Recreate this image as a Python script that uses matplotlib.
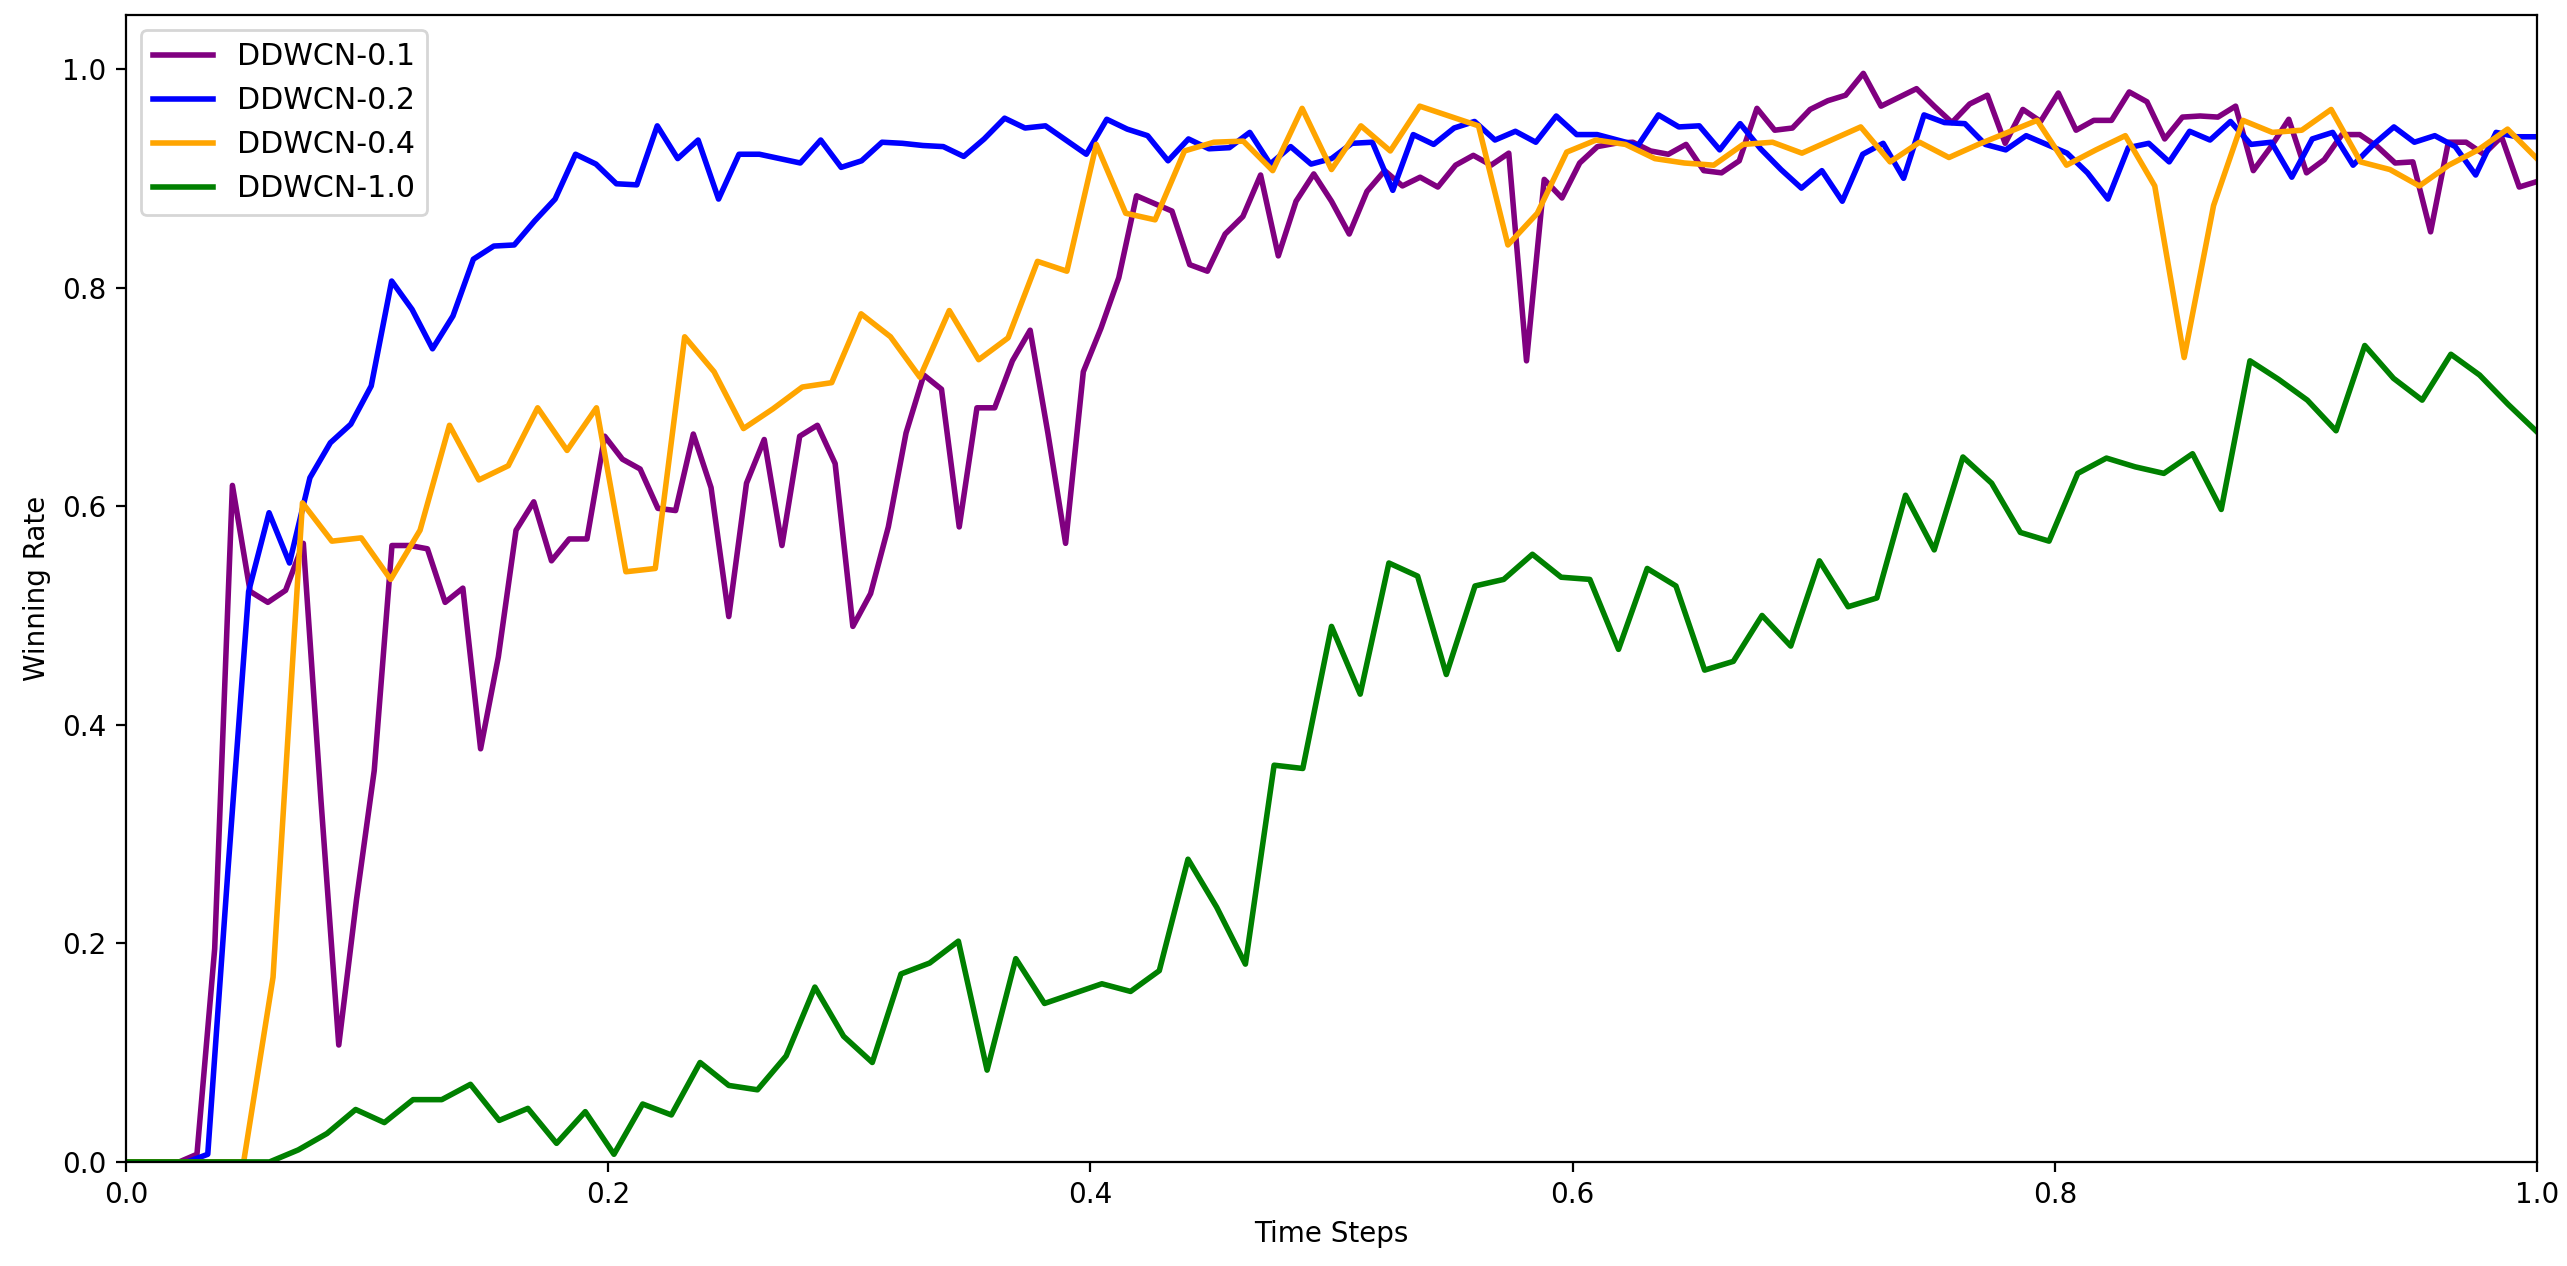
import numpy as np
import matplotlib
matplotlib.use("Agg")
import matplotlib.pyplot as plt

labels = ["DDWCN-0.1", "DDWCN-0.2", "DDWCN-0.4", "DDWCN-1.0"]
colors = ["purple", "blue", "orange", "green"]

ddwcn_01 = [0, 0, 0, 0.0, 0.007, 0.195, 0.619, 0.522, 0.512, 0.523, 0.566, 0.33, 0.107, 0.24, 0.358,
            0.564, 0.564, 0.561, 0.512, 0.525, 0.378, 0.462, 0.578, 0.604, 0.550, 0.570, 0.570, 0.664,
            0.643, 0.634, 0.598, 0.596, 0.666, 0.617, 0.499, 0.621, 0.661, 0.564, 0.664, 0.674, 0.639,
            0.490, 0.520, 0.581, 0.667, 0.720, 0.707, 0.581, 0.690, 0.690, 0.733, 0.761, 0.667, 0.566,
            0.723, 0.763, 0.809, 0.884, 0.877, 0.870, 0.821, 0.815, 0.849, 0.865, 0.903, 0.829, 0.879,
            0.904, 0.879, 0.849, 0.888, 0.907, 0.893, 0.901, 0.892, 0.912, 0.921, 0.912, 0.923, 0.733,
            0.899, 0.882, 0.914, 0.929, 0.932, 0.933, 0.925, 0.922, 0.931, 0.907, 0.905, 0.916, 0.964,
            0.944, 0.946, 0.963, 0.971, 0.976, 0.996, 0.966, 0.974, 0.982, 0.966, 0.951, 0.968, 0.976,
            0.932, 0.963, 0.952, 0.978, 0.944, 0.953, 0.953, 0.979, 0.970, 0.936, 0.956, 0.957, 0.956,
            0.966, 0.907, 0.929, 0.954, 0.905, 0.917, 0.940, 0.940, 0.929, 0.914, 0.915, 0.851, 0.933,
            0.933, 0.922, 0.938, 0.892, 0.897]

ddwcn_02 = [0, 0, 0, 0, 0.007, 0.27, 0.522, 0.594, 0.548, 0.626, 0.658, 0.675, 0.710, 0.806, 0.780,
            0.744, 0.774, 0.826, 0.838, 0.839, 0.861, 0.881, 0.922, 0.913, 0.895, 0.894, 0.948, 0.918,
            0.935, 0.881, 0.922, 0.922, 0.918, 0.914, 0.935, 0.910, 0.916, 0.933, 0.932, 0.930, 0.929,
            0.920, 0.936, 0.955, 0.946, 0.948, 0.935, 0.922, 0.954, 0.945, 0.939, 0.916, 0.936, 0.927,
            0.928, 0.942, 0.913, 0.929, 0.913, 0.918, 0.932, 0.933, 0.889, 0.940, 0.931, 0.946, 0.952,
            0.935, 0.943, 0.933, 0.957, 0.940, 0.940, 0.935, 0.930, 0.958, 0.947, 0.948, 0.926, 0.950,
            0.927, 0.908, 0.891, 0.907, 0.879, 0.922, 0.932, 0.900, 0.958, 0.951, 0.950, 0.931, 0.926,
            0.939, 0.931, 0.923, 0.905, 0.881, 0.928, 0.932, 0.915, 0.943, 0.935, 0.952, 0.931, 0.933,
            0.901, 0.936, 0.942, 0.912, 0.931, 0.947, 0.933, 0.939, 0.929, 0.903, 0.942, 0.938, 0.938]

ddwcn_04 = [0, 0, 0, 0, 0, 0.169, 0.603, 0.568, 0.571, 0.533, 0.578, 0.674, 0.624, 0.637, 0.690,
            0.651, 0.690, 0.540, 0.543, 0.755, 0.723, 0.671, 0.689, 0.709, 0.713, 0.776, 0.755, 0.718,
            0.779, 0.734, 0.754, 0.824, 0.815, 0.931, 0.868, 0.862, 0.925, 0.933, 0.934, 0.907, 0.964,
            0.908, 0.948, 0.925, 0.966, 0.957, 0.948, 0.839, 0.868, 0.924, 0.935, 0.931, 0.918, 0.914,
            0.912, 0.931, 0.933, 0.923, 0.935, 0.947, 0.915, 0.933, 0.919, 0.931, 0.942, 0.953, 0.912,
            0.926, 0.939, 0.893, 0.736, 0.875, 0.953, 0.942, 0.944, 0.963, 0.915, 0.908, 0.893, 0.912,
            0.926, 0.945, 0.918]

ddwcn_10 = [0, 0, 0, 0, 0, 0, 0.011, 0.026, 0.048, 0.036, 0.057, 0.057, 0.071, 0.038, 0.049, 0.017,
            0.046, 0.007, 0.053, 0.043, 0.091, 0.070, 0.066, 0.097, 0.160, 0.115, 0.091, 0.172, 0.182,
            0.202, 0.084, 0.186, 0.145, 0.154, 0.163, 0.156, 0.175, 0.277, 0.233, 0.181, 0.363, 0.360,
            0.490, 0.428, 0.548, 0.536, 0.446, 0.527, 0.533, 0.556, 0.535, 0.533, 0.469, 0.543, 0.527,
            0.450, 0.458, 0.500, 0.472, 0.550, 0.508, 0.516, 0.610, 0.560, 0.645, 0.621, 0.576, 0.568,
            0.630, 0.644, 0.636, 0.630, 0.648, 0.597, 0.733, 0.716, 0.697, 0.669, 0.747, 0.717, 0.697,
            0.739, 0.720, 0.693, 0.668]

series = [ddwcn_01, ddwcn_02, ddwcn_04, ddwcn_10]

fig = plt.figure(figsize=(12.835, 6.33), dpi=200)
ax = fig.add_axes([0.0491, 0.0822, 0.9392, 0.9056])

for vals, lab, col in zip(series, labels, colors):
    x = np.linspace(0, 1, len(vals))
    ax.plot(x, vals, color=col, linewidth=2, label=lab)

ax.set_xlim(0, 1)
ax.set_ylim(0, 1.049)
ax.set_xticks([0.0, 0.2, 0.4, 0.6, 0.8, 1.0])
ax.set_yticks([0.0, 0.2, 0.4, 0.6, 0.8, 1.0])
ax.set_xlabel("Time Steps")
ax.set_ylabel("Winning Rate")
ax.legend(loc="upper left", fontsize=10.8)

fig.savefig("out.png", dpi=200)
